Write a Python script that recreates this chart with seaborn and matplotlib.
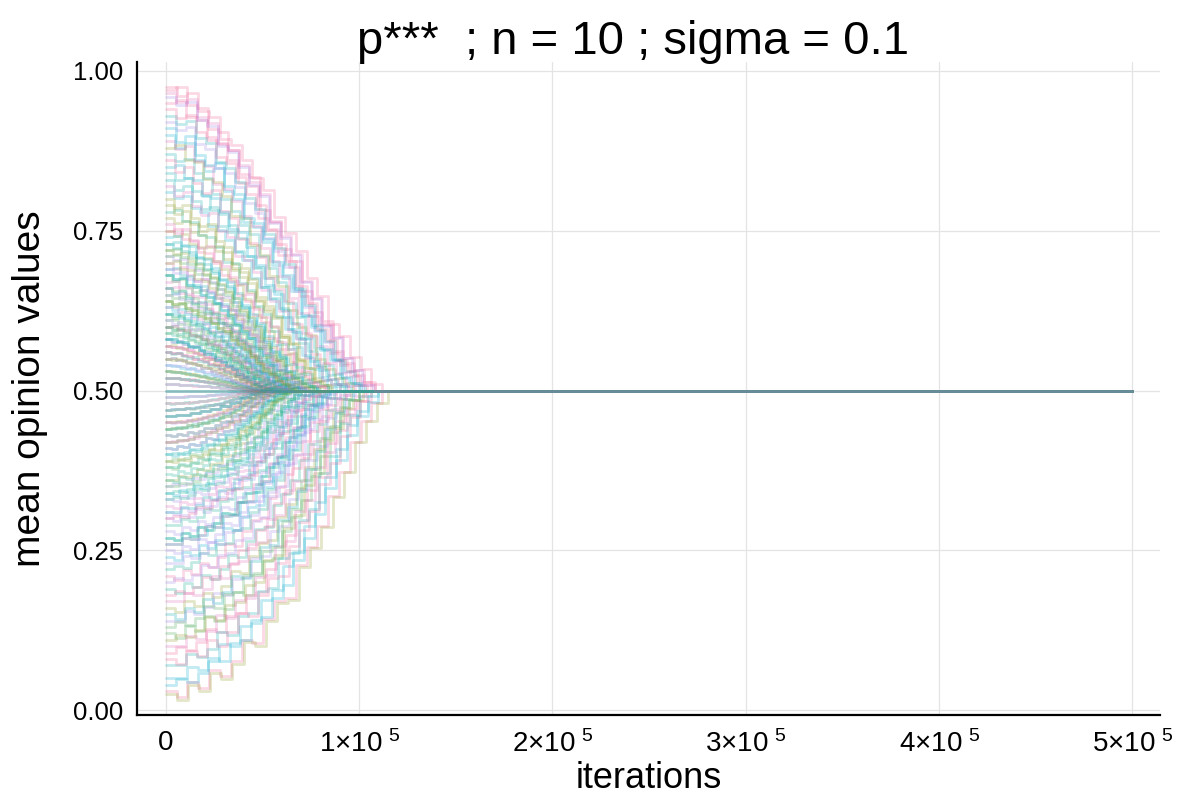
import matplotlib
matplotlib.use('Agg')
import matplotlib.pyplot as plt
import seaborn as sns
import numpy as np
import pandas as pd

starts = [0.975, 0.55, 0.12, 0.71, 0.36, 0.90, 0.47, 0.63, 0.21, 0.84, 0.52, 0.30, 0.77, 0.05, 0.60, 0.42, 0.95, 0.27, 0.66, 0.50,
          0.16, 0.81, 0.44, 0.58, 0.09, 0.73, 0.38, 0.92, 0.53, 0.24, 0.68, 0.46, 0.03, 0.87, 0.61, 0.33, 0.75, 0.49, 0.19, 0.57,
          0.97, 0.40, 0.64, 0.14, 0.80, 0.51, 0.29, 0.70, 0.45, 0.07, 0.62, 0.35, 0.88, 0.54, 0.22, 0.67, 0.43, 0.93, 0.59, 0.31,
          0.11, 0.74, 0.48, 0.56, 0.26, 0.83, 0.39, 0.65, 0.025, 0.52, 0.78, 0.41, 0.18, 0.69, 0.47, 0.96, 0.57, 0.34, 0.62, 0.10,
          0.86, 0.44, 0.60, 0.25, 0.72, 0.50, 0.37, 0.89, 0.55, 0.15, 0.65, 0.42, 0.79, 0.04, 0.58, 0.32, 0.94, 0.46, 0.68, 0.20,
          0.45, 0.58, 0.33, 0.66, 0.51, 0.40, 0.71, 0.28, 0.55, 0.62, 0.36, 0.49, 0.75, 0.43, 0.60, 0.23, 0.53, 0.68, 0.38, 0.82,
          0.56, 0.31, 0.64, 0.47, 0.70, 0.41, 0.59, 0.17, 0.52, 0.73, 0.35, 0.61, 0.44, 0.85, 0.27, 0.57, 0.48, 0.66, 0.13, 0.54,
          0.39, 0.63, 0.46, 0.76, 0.30, 0.58, 0.50, 0.69, 0.42, 0.91, 0.34, 0.60, 0.08, 0.53, 0.72, 0.45, 0.64, 0.26, 0.56, 0.965]

# iterations (in thousands) at which each run has settled at 0.5
settle_k = [112, 52, 100, 74, 65, 100, 50, 64, 88, 92, 48, 76, 84, 110, 60, 58, 106, 80, 66, 44,
            96, 88, 54, 57, 104, 78, 63, 102, 49, 85, 70, 51, 112, 96, 61, 72, 80, 46, 92, 56,
            108, 61, 65, 98, 86, 47, 80, 72, 53, 106, 62, 68, 97, 50, 87, 68, 56, 103, 58, 76,
            102, 78, 47, 54, 82, 90, 62, 66, 115, 49, 84, 59, 93, 71, 50, 107, 55, 70, 63, 103,
            94, 55, 59, 84, 76, 45, 64, 98, 52, 97, 67, 58, 85, 110, 57, 74, 104, 51, 69, 90,
            54, 60, 75, 70, 46, 62, 76, 82, 55, 66, 70, 48, 82, 57, 62, 88, 52, 72, 66, 90,
            56, 78, 68, 52, 74, 60, 61, 95, 50, 79, 70, 64, 56, 93, 83, 58, 49, 69, 100, 53,
            64, 65, 52, 83, 79, 57, 47, 73, 59, 101, 72, 63, 106, 51, 77, 55, 67, 85, 55, 108]

# share of the way to 0.5 still left, at 0, 5%, ..., 100% of the settling time
progress = [0.00, 0.05, 0.10, 0.15, 0.20, 0.25, 0.30, 0.35, 0.40, 0.45, 0.50,
            0.55, 0.60, 0.65, 0.70, 0.75, 0.80, 0.85, 0.90, 0.95, 1.00]
upper_shapes = [
    [1.00, 0.97, 0.98, 0.92, 0.90, 0.83, 0.81, 0.76, 0.70, 0.66, 0.57,
     0.52, 0.46, 0.37, 0.31, 0.22, 0.18, 0.11, 0.07, 0.02, 0.00],
    [1.00, 1.01, 0.95, 0.94, 0.87, 0.86, 0.80, 0.72, 0.71, 0.60, 0.56,
     0.47, 0.43, 0.33, 0.26, 0.23, 0.13, 0.09, 0.05, 0.03, 0.00],
    [1.00, 0.95, 0.97, 0.90, 0.86, 0.87, 0.78, 0.75, 0.66, 0.64, 0.58,
     0.49, 0.44, 0.39, 0.29, 0.25, 0.16, 0.12, 0.05, 0.03, 0.00],
]
lower_shapes = [
    [1.00, 0.98, 0.99, 0.96, 0.91, 0.92, 0.86, 0.85, 0.78, 0.77, 0.68,
     0.66, 0.55, 0.50, 0.38, 0.33, 0.20, 0.15, 0.07, 0.04, 0.00],
    [1.00, 1.00, 0.96, 0.97, 0.94, 0.88, 0.89, 0.82, 0.81, 0.73, 0.72,
     0.61, 0.59, 0.47, 0.43, 0.30, 0.24, 0.12, 0.09, 0.02, 0.00],
    [1.00, 1.02, 0.97, 0.99, 0.93, 0.95, 0.90, 0.83, 0.84, 0.76, 0.70,
     0.69, 0.58, 0.52, 0.45, 0.35, 0.27, 0.17, 0.10, 0.04, 0.00],
]

consensus = 0.5
last_iter = 500000

colors = ['#ED5E93', '#00A9AD', '#3EA44E', '#9B7FE9',
          '#8E971E', '#00A8CB', '#00A98D', '#DE67B6']

assert len(starts) == len(settle_k)

rows = []
for run, (s, tk) in enumerate(zip(starts, settle_k)):
    shapes = upper_shapes if s >= consensus else lower_shapes
    shape = shapes[run % len(shapes)]
    for p, f in zip(progress, shape):
        rows.append((run, p * tk * 1000, consensus + (s - consensus) * f))
    rows.append((run, last_iter, consensus))
df = pd.DataFrame(rows, columns=['run', 'iteration', 'value'])

sns.set_style('white')
plt.rcParams['font.family'] = ['Liberation Sans', 'DejaVu Sans']
plt.rcParams['text.color'] = 'black'
plt.rcParams['axes.labelcolor'] = 'black'
plt.rcParams['xtick.color'] = 'black'
plt.rcParams['ytick.color'] = 'black'

fig = plt.figure(figsize=(12, 8), dpi=100)
ax = fig.add_axes([0.114, 0.106, 0.853, 0.8165])

palette = [colors[i % len(colors)] for i in range(len(starts))]
sns.lineplot(data=df, x='iteration', y='value', hue='run', palette=palette,
             estimator=None, sort=False, legend=False, ax=ax,
             drawstyle='steps-post', alpha=0.24, linewidth=2.0)

ax.set_xlim(-15000, 514500)
ax.set_ylim(-0.008, 1.014)
xt = [0, 100000, 200000, 300000, 400000, 500000]
ax.set_xticks(xt)
ax.set_xticklabels(['0'] + [r'$\mathregular{%d{\times}10^{\ 5}}$' % k for k in range(1, 6)])
ax.set_yticks([0, 0.25, 0.5, 0.75, 1.0])
ax.set_yticklabels(['0.00', '0.25', '0.50', '0.75', '1.00'])
ax.grid(True, color='#e4e4e4', linewidth=0.9)
ax.set_axisbelow(True)
for side in ['top', 'right']:
    ax.spines[side].set_visible(False)
for side in ['left', 'bottom']:
    ax.spines[side].set_linewidth(1.6)
    ax.spines[side].set_color('black')
ax.tick_params(axis='y', direction='in', length=11, width=1.6, labelsize=18.5, pad=10)
ax.tick_params(axis='x', direction='in', length=7, width=1.6, labelsize=20, pad=11)

ax.set_title('p***  ; n = 10 ; sigma = 0.1', fontsize=34, pad=6, x=0.485)
ax.set_xlabel('iterations', fontsize=26, labelpad=2)
ax.set_ylabel('mean opinion values', fontsize=28, labelpad=18)

fig.savefig('out.png', dpi=100)
